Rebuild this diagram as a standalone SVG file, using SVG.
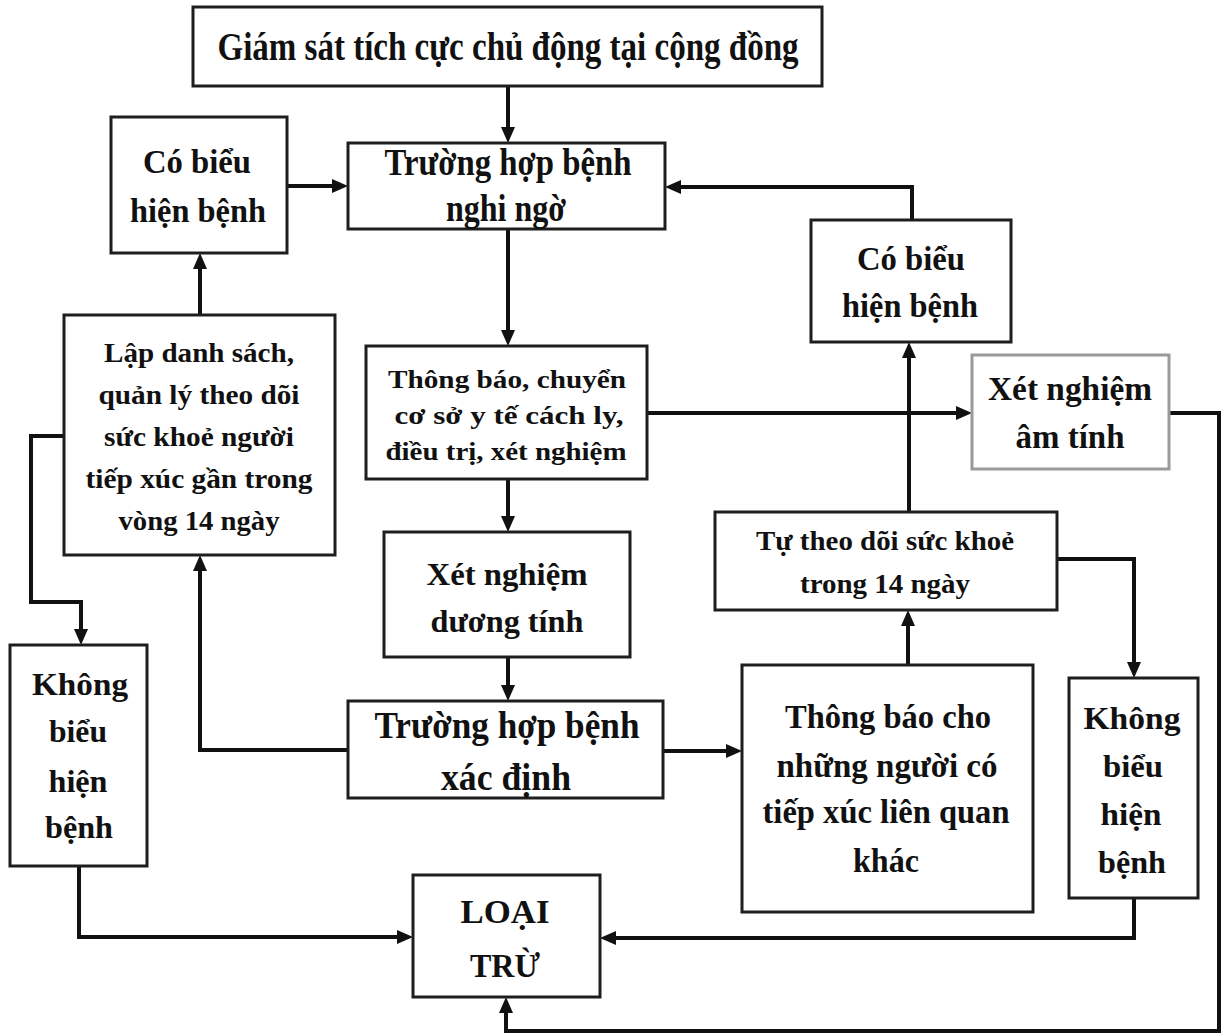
<svg xmlns="http://www.w3.org/2000/svg" width="1225" height="1036" viewBox="0 0 1225 1036">
<style>
.box{fill:#fff;stroke:#1e1e1e;stroke-width:3}
.gray{stroke:#9a9a9a}
.t{font-family:"Liberation Serif","Times New Roman",serif;font-weight:bold;fill:#111;text-anchor:middle}
.c{fill:none;stroke:#111;stroke-width:4;stroke-linejoin:miter}
.a{marker-end:url(#ah)}
</style>
<defs>
<marker id="ah" viewBox="0 0 16 14" refX="10" refY="7" markerWidth="16" markerHeight="14" markerUnits="userSpaceOnUse" orient="auto">
<path d="M0,0 L16,7 L0,14 z" fill="#111"/>
</marker>
</defs>
<rect width="1225" height="1036" fill="#fff"/>
<g id="connectors">
<path class="c a" d="M508,86 V137"/>
<path class="c a" d="M287,186 H342"/>
<path class="c a" d="M912,220 V187 H671"/>
<path class="c a" d="M508,229 V340"/>
<path class="c a" d="M200,315 V259"/>
<path class="c a" d="M64,436 H31 V602 H81 V639"/>
<path class="c a" d="M508,479 V526"/>
<path class="c a" d="M647,413 H966"/>
<path class="c a" d="M508,657 V695"/>
<path class="c a" d="M348,750 H200 V561"/>
<path class="c a" d="M663,751 H736"/>
<path class="c a" d="M908,665 V616"/>
<path class="c a" d="M909,512 V348"/>
<path class="c a" d="M1057,559 H1134 V672"/>
<path class="c a" d="M79,866 V937 H407"/>
<path class="c a" d="M1134,898 V938 H606"/>
<path class="c a" d="M1169,413 H1219 V1031 H506 V1003"/>
</g>
<g id="n_top">
<rect class="box" x="193" y="7" width="629" height="79"/>
<text class="t" x="508" y="60" font-size="40" textLength="581" lengthAdjust="spacingAndGlyphs">Giám sát tích cực chủ động tại cộng đồng</text>
</g>
<g id="n_nghingo">
<rect class="box" x="348" y="143" width="317" height="86"/>
<text class="t" x="508" y="175" font-size="37" textLength="247" lengthAdjust="spacingAndGlyphs">Trường hợp bệnh</text>
<text class="t" x="506" y="221" font-size="37" textLength="120" lengthAdjust="spacingAndGlyphs">nghi ngờ</text>
</g>
<g id="n_cobieu_l">
<rect class="box" x="111" y="117" width="176" height="136"/>
<text class="t" x="197" y="173" font-size="34" textLength="108" lengthAdjust="spacingAndGlyphs">Có biểu</text>
<text class="t" x="198" y="222" font-size="34" textLength="136" lengthAdjust="spacingAndGlyphs">hiện bệnh</text>
</g>
<g id="n_lap">
<rect class="box" x="64" y="315" width="271" height="240"/>
<text class="t" x="199" y="362" font-size="28" textLength="190" lengthAdjust="spacingAndGlyphs">Lập danh sách,</text>
<text class="t" x="199" y="404" font-size="28" textLength="201" lengthAdjust="spacingAndGlyphs">quản lý theo dõi</text>
<text class="t" x="199" y="446" font-size="28" textLength="190" lengthAdjust="spacingAndGlyphs">sức khoẻ người</text>
<text class="t" x="199" y="488" font-size="28" textLength="227" lengthAdjust="spacingAndGlyphs">tiếp xúc gần trong</text>
<text class="t" x="199" y="530" font-size="28" textLength="161" lengthAdjust="spacingAndGlyphs">vòng 14 ngày</text>
</g>
<g id="n_thongbao1">
<rect class="box" x="366" y="346" width="281" height="133"/>
<text class="t" x="507" y="388" font-size="26" textLength="238" lengthAdjust="spacingAndGlyphs">Thông báo, chuyển</text>
<text class="t" x="509" y="424" font-size="26" textLength="229" lengthAdjust="spacingAndGlyphs">cơ sở y tế cách ly,</text>
<text class="t" x="506" y="460" font-size="26" textLength="241" lengthAdjust="spacingAndGlyphs">điều trị, xét nghiệm</text>
</g>
<g id="n_duong">
<rect class="box" x="384" y="532" width="246" height="125"/>
<text class="t" x="507" y="585" font-size="31" textLength="161" lengthAdjust="spacingAndGlyphs">Xét nghiệm</text>
<text class="t" x="507" y="632" font-size="31" textLength="153" lengthAdjust="spacingAndGlyphs">dương tính</text>
</g>
<g id="n_xacdinh">
<rect class="box" x="348" y="701" width="315" height="97"/>
<text class="t" x="507" y="738" font-size="38" textLength="265" lengthAdjust="spacingAndGlyphs">Trường hợp bệnh</text>
<text class="t" x="506" y="790" font-size="38" textLength="130" lengthAdjust="spacingAndGlyphs">xác định</text>
</g>
<g id="n_loaitru">
<rect class="box" x="413" y="875" width="187" height="122"/>
<text class="t" x="505" y="923" font-size="33" textLength="89" lengthAdjust="spacingAndGlyphs">LOẠI</text>
<text class="t" x="505" y="977" font-size="33" textLength="70" lengthAdjust="spacingAndGlyphs">TRỪ</text>
</g>
<g id="n_khong_l">
<rect class="box" x="10" y="645" width="137" height="221"/>
<text class="t" x="80" y="695" font-size="31" textLength="96" lengthAdjust="spacingAndGlyphs">Không</text>
<text class="t" x="78" y="742" font-size="31" textLength="58" lengthAdjust="spacingAndGlyphs">biểu</text>
<text class="t" x="78" y="792" font-size="31" textLength="59" lengthAdjust="spacingAndGlyphs">hiện</text>
<text class="t" x="79" y="838" font-size="31" textLength="68" lengthAdjust="spacingAndGlyphs">bệnh</text>
</g>
<g id="n_thongbao2">
<rect class="box" x="742" y="665" width="291" height="247"/>
<text class="t" x="888" y="728" font-size="33" textLength="206" lengthAdjust="spacingAndGlyphs">Thông báo cho</text>
<text class="t" x="887" y="777" font-size="33" textLength="221" lengthAdjust="spacingAndGlyphs">những người có</text>
<text class="t" x="886" y="823" font-size="33" textLength="247" lengthAdjust="spacingAndGlyphs">tiếp xúc liên quan</text>
<text class="t" x="886" y="872" font-size="33" textLength="66" lengthAdjust="spacingAndGlyphs">khác</text>
</g>
<g id="n_khong_r">
<rect class="box" x="1069" y="678" width="129" height="220"/>
<text class="t" x="1132" y="729" font-size="31" textLength="97" lengthAdjust="spacingAndGlyphs">Không</text>
<text class="t" x="1133" y="777" font-size="31" textLength="60" lengthAdjust="spacingAndGlyphs">biểu</text>
<text class="t" x="1131" y="825" font-size="31" textLength="61" lengthAdjust="spacingAndGlyphs">hiện</text>
<text class="t" x="1132" y="873" font-size="31" textLength="68" lengthAdjust="spacingAndGlyphs">bệnh</text>
</g>
<g id="n_cobieu_r">
<rect class="box" x="811" y="220" width="200" height="122"/>
<text class="t" x="911" y="270" font-size="34" textLength="108" lengthAdjust="spacingAndGlyphs">Có biểu</text>
<text class="t" x="910" y="317" font-size="34" textLength="136" lengthAdjust="spacingAndGlyphs">hiện bệnh</text>
</g>
<g id="n_am">
<rect class="box gray" x="972" y="355" width="197" height="114"/>
<text class="t" x="1070" y="400" font-size="33" textLength="164" lengthAdjust="spacingAndGlyphs">Xét nghiệm</text>
<text class="t" x="1070" y="448" font-size="33" textLength="109" lengthAdjust="spacingAndGlyphs">âm tính</text>
</g>
<g id="n_tutheodoi">
<rect class="box" x="715" y="512" width="342" height="98"/>
<text class="t" x="885" y="550" font-size="28" textLength="258" lengthAdjust="spacingAndGlyphs">Tự theo dõi sức khoẻ</text>
<text class="t" x="885" y="593" font-size="28" textLength="170" lengthAdjust="spacingAndGlyphs">trong 14 ngày</text>
</g>
</svg>
